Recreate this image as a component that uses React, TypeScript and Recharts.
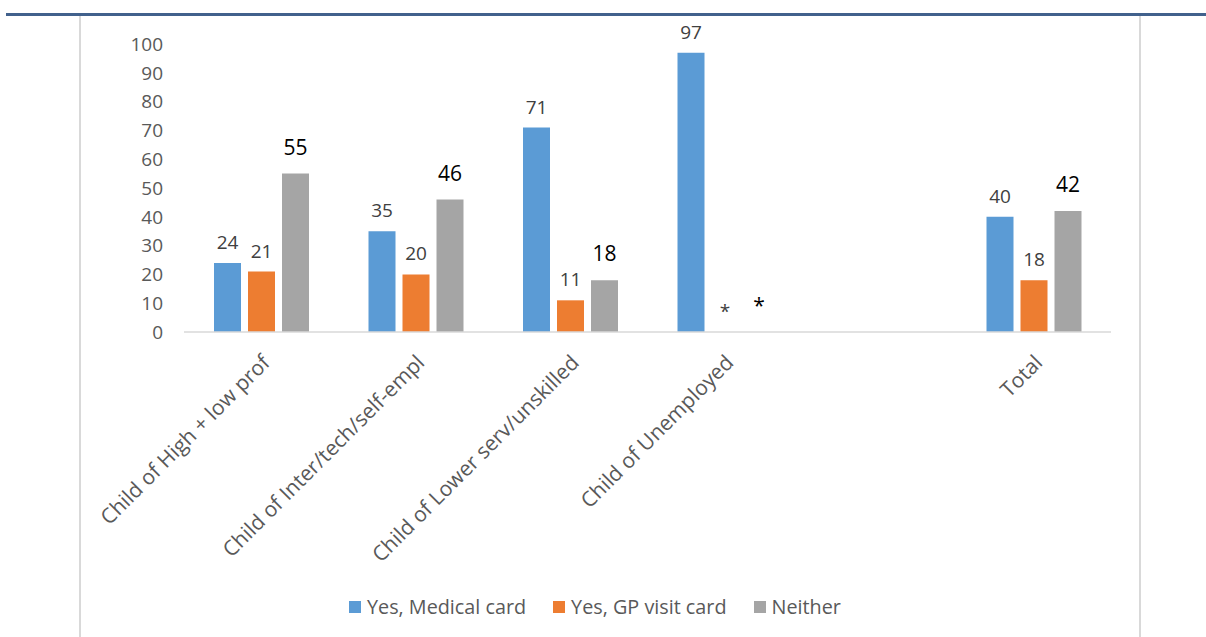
import { BarChart, Bar, XAxis, YAxis, Legend, LabelList } from 'recharts'

// 0 = value suppressed in the source table (shown as *), null = spacer column
const groups = [
  'Child of High + low prof',
  'Child of Inter/tech/self-empl',
  'Child of Lower serv/unskilled',
  'Child of Unemployed',
  '',
  'Total',
]
const medicalCard = [24, 35, 71, 97, null, 40]
const gpVisitCard = [21, 20, 11, 0, null, 18]
const neither = [55, 46, 18, 0, null, 42]
const yTicks = [0, 10, 20, 30, 40, 50, 60, 70, 80, 90, 100]

const series = [
  { key: 'medical', name: 'Yes, Medical card', color: '#5B9BD5' },
  { key: 'gp', name: 'Yes, GP visit card', color: '#ED7D31' },
  { key: 'neither', name: 'Neither', color: '#A5A5A5' },
]

const rows = groups.map((g, i) => ({
  group: g,
  medical: medicalCard[i],
  gp: gpVisitCard[i],
  neither: neither[i],
}))

const FONT = "'Open Sans', sans-serif"

const showValue = (v: any) => (v === null || v === undefined ? '' : v === 0 ? '*' : String(v))

// zero-height bars get dropped from the label list, so give suppressed cells a hairline height
const hairline = (v: any) => (v === 0 ? 0.01 : 0)

function GroupTick({ x, y, payload }: any) {
  const tx = x + 10
  const ty = y + 32
  return (
    <text
      x={tx}
      y={ty}
      transform={`rotate(-45, ${tx}, ${ty})`}
      textAnchor="end"
      fill="#595959"
      fontSize={21}
      fontFamily={FONT}
    >
      {payload.value}
    </text>
  )
}

function LegendRow() {
  return (
    <div style={{ display: 'flex', alignItems: 'center', fontFamily: FONT, fontSize: 19.8, color: '#595959' }}>
      {series.map((s) => (
        <div key={s.key} style={{ display: 'flex', alignItems: 'center', marginRight: 27 }}>
          <span style={{ width: 12, height: 12, background: s.color, marginRight: 6, display: 'inline-block' }} />
          <span>{s.name}</span>
        </div>
      ))}
    </div>
  )
}

function valueLabel(big: boolean) {
  return (props: any) => {
    const { x, y, width, value } = props
    const text = showValue(value)
    if (!text) return null
    return (
      <text
        x={x + width / 2}
        y={y - (big ? 19 : 14)}
        textAnchor="middle"
        fill={big ? '#000' : '#404040'}
        fontSize={big ? 21 : 19}
        fontFamily={FONT}
      >
        {text}
      </text>
    )
  }
}

export default function App() {
  return (
    <div style={{ position: 'absolute', left: 0, top: 0, width: 1206, height: 637, background: '#fff' }}>
      <div style={{ position: 'absolute', left: 6, top: 13, width: 1200, height: 3, background: '#41618C' }} />
      <div style={{ position: 'absolute', left: 79, top: 16, width: 2, height: 621, background: '#D9D9D9' }} />
      <div style={{ position: 'absolute', left: 1139, top: 16, width: 2, height: 621, background: '#D9D9D9' }} />
      <BarChart
        width={1206}
        height={637}
        data={rows}
        margin={{ top: 44, right: 95, bottom: 0, left: 0 }}
        barSize={27}
        barGap={7}
        style={{ position: 'absolute', left: 0, top: 0 }}
      >
        <XAxis
          dataKey="group"
          height={305}
          interval={0}
          tick={<GroupTick />}
          tickLine={false}
          tickSize={0}
          tickMargin={0}
          axisLine={{ stroke: '#D9D9D9', strokeWidth: 1.5 }}
        />
        <YAxis
          width={184}
          domain={[0, 100]}
          ticks={yTicks}
          interval={0}
          axisLine={false}
          tickLine={false}
          tickMargin={15}
          tick={{ fill: '#595959', fontSize: 19, fontFamily: FONT }}
        />
        <Legend
          layout="horizontal"
          verticalAlign="middle"
          align="center"
          wrapperStyle={{ left: 349, top: 593, width: 560 }}
          content={() => <LegendRow />}
        />
        {series.map((s) => (
          <Bar
            key={s.key}
            dataKey={s.key}
            name={s.name}
            fill={s.color}
            minPointSize={hairline}
            isAnimationActive={false}
          >
            <LabelList dataKey={s.key} content={valueLabel(s.key === 'neither')} />
          </Bar>
        ))}
      </BarChart>
    </div>
  )
}
